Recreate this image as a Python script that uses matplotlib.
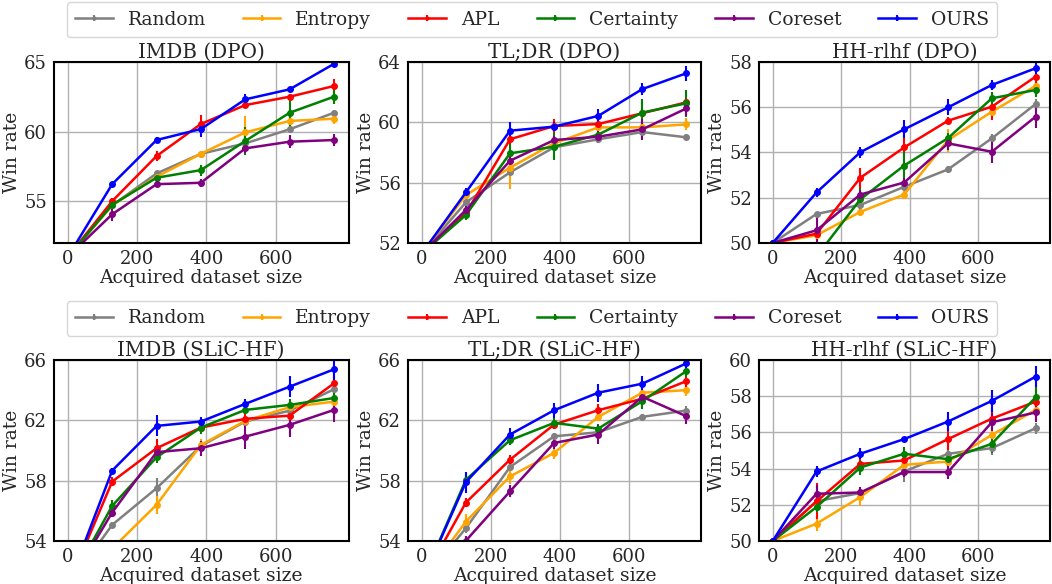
import numpy as np
import matplotlib
matplotlib.use("Agg")
import matplotlib.pyplot as plt
from matplotlib.container import ErrorbarContainer
from matplotlib.legend_handler import HandlerErrorbar

plt.rcParams['font.family'] = 'DejaVu Serif'
plt.rcParams['font.size'] = 13
plt.rcParams['text.color'] = '0.15'
plt.rcParams['axes.labelcolor'] = '0.15'
plt.rcParams['xtick.color'] = '0.15'
plt.rcParams['ytick.color'] = '0.15'

x = [0, 128, 256, 384, 512, 640, 768]
methods = ["Random", "Entropy", "APL", "Certainty", "Coreset", "OURS"]
colors = ["gray", "orange", "red", "green", "purple", "blue"]

titles = ["IMDB (DPO)", "TL;DR (DPO)", "HH-rlhf (DPO)",
          "IMDB (SLiC-HF)", "TL;DR (SLiC-HF)", "HH-rlhf (SLiC-HF)"]
ylims = [(52, 65), (52, 64), (50, 58), (54, 66), (54, 66), (50, 60)]
yticks = [[55, 60, 65], [52, 56, 60, 64], [50, 52, 54, 56, 58],
          [54, 58, 62, 66], [54, 58, 62, 66], [50, 52, 54, 56, 58, 60]]

# win rates, order: Random, Entropy, APL, Certainty, Coreset, OURS
imdb_dpo = [
    [51, 54.7, 56.99, 58.4, 59.15, 60.16, 61.35],
    [51, 54.7, 56.75, 58.4, 59.94, 60.76, 60.92],
    [51, 55.0, 58.24, 60.54, 61.9, 62.5, 63.27],
    [51, 54.74, 56.68, 57.23, 59.32, 61.35, 62.5],
    [51, 54.06, 56.22, 56.32, 58.79, 59.27, 59.39],
    [51, 56.22, 59.39, 60.18, 62.31, 63.03, 64.86],
]
imdb_dpo_err = [
    [0, 0.2, 0.2, 0.1, 0.2, 0.2, 0.2],
    [0, 0.2, 0.2, 0.15, 1.2, 0.35, 0.35],
    [0, 0.2, 0.35, 0.65, 0.2, 0.2, 0.5],
    [0, 0.2, 0.2, 0.4, 1.0, 1.3, 0.5],
    [0, 0.45, 0.2, 0.3, 0.35, 0.45, 0.4],
    [0, 0.15, 0.2, 0.6, 0.35, 0.2, 0.15],
]
tldr_dpo = [
    [51.3, 54.69, 56.68, 58.34, 58.87, 59.35, 59.0],
    [51.3, 55.17, 56.99, 58.6, 59.66, 59.66, 59.86],
    [51.3, 53.96, 58.87, 59.75, 59.88, 60.6, 61.32],
    [51.3, 53.85, 57.94, 58.38, 59.18, 60.64, 61.26],
    [51.3, 54.18, 57.45, 58.82, 59.04, 59.53, 60.92],
    [51.3, 55.35, 59.44, 59.71, 60.42, 62.2, 63.25],
]
tldr_dpo_err = [
    [0, 0.3, 0.2, 0.2, 0.2, 0.2, 0.2],
    [0, 0.3, 1.4, 0.3, 0.3, 0.2, 0.4],
    [0, 0.2, 0.3, 0.45, 0.25, 0.3, 0.3],
    [0, 0.3, 0.6, 0.9, 0.3, 0.9, 0.9],
    [0, 0.3, 0.3, 0.3, 0.4, 0.7, 0.5],
    [0, 0.3, 0.6, 0.3, 0.45, 0.4, 0.5],
]
hh_dpo = [
    [50, 51.28, 51.68, 52.48, 53.25, 54.62, 56.14],
    [50, 50.34, 51.37, 52.14, 54.54, 55.8, 56.94],
    [50, 50.41, 52.88, 54.22, 55.4, 56.02, 57.35],
    [50, 49.4, 51.93, 53.42, 54.63, 56.39, 56.76],
    [50, 50.56, 52.14, 52.67, 54.4, 54.03, 55.58],
    [50, 52.23, 54.01, 55.02, 55.99, 56.98, 57.72],
]
hh_dpo_err = [
    [0, 0.1, 0.1, 0.1, 0.15, 0.2, 0.2],
    [0, 0.2, 0.2, 0.15, 0.5, 0.2, 0.3],
    [0, 0.3, 0.45, 0.4, 0.15, 0.6, 0.4],
    [0, 0.3, 0.5, 0.6, 0.25, 0.3, 0.3],
    [0, 0.6, 0.2, 0.2, 0.3, 0.5, 0.5],
    [0, 0.2, 0.25, 0.4, 0.35, 0.2, 0.3],
]
imdb_slic = [
    [51, 55.07, 57.5, 60.3, 61.92, 62.64, 64.06],
    [51, 53.5, 56.4, 60.37, 61.96, 62.87, 63.24],
    [51, 57.94, 60.15, 61.52, 62.1, 62.31, 64.45],
    [51, 56.33, 59.55, 61.52, 62.69, 63.02, 63.48],
    [51, 55.89, 59.89, 60.15, 60.92, 61.7, 62.69],
    [51, 58.67, 61.63, 61.92, 63.09, 64.23, 65.38],
]
imdb_slic_err = [
    [0, 0.2, 0.7, 0.3, 0.3, 0.4, 0.4],
    [0, 0.3, 0.6, 0.4, 0.3, 0.3, 0.3],
    [0, 0.3, 0.6, 0.3, 0.3, 0.4, 0.5],
    [0, 0.4, 0.4, 0.4, 0.3, 0.4, 0.3],
    [0, 0.3, 0.3, 0.5, 0.8, 0.8, 0.8],
    [0, 0.2, 0.7, 0.3, 0.35, 0.7, 0.7],
]
tldr_slic = [
    [51.3, 54.85, 58.9, 60.94, 61.21, 62.23, 62.65],
    [51.3, 55.29, 58.28, 59.84, 62.23, 63.83, 64.0],
    [51.3, 56.55, 59.39, 61.72, 62.67, 63.43, 64.6],
    [51.3, 58.06, 60.68, 61.83, 61.45, 63.27, 65.27],
    [51.3, 54.02, 57.29, 60.5, 61.06, 63.56, 62.27],
    [51.3, 57.9, 61.06, 62.67, 63.83, 64.43, 65.78],
]
tldr_slic_err = [
    [0, 0.3, 0.3, 0.2, 0.2, 0.2, 0.3],
    [0, 0.5, 0.5, 0.4, 0.3, 0.3, 0.4],
    [0, 0.3, 0.3, 0.3, 0.4, 0.4, 0.4],
    [0, 0.4, 0.3, 0.3, 0.3, 0.5, 0.4],
    [0, 0.3, 0.4, 0.4, 0.6, 0.3, 0.5],
    [0, 0.7, 0.4, 0.5, 0.6, 0.5, 0.3],
]
hh_slic = [
    [50, 52.2, 52.65, 53.84, 54.82, 55.13, 56.23],
    [50, 50.96, 52.43, 54.21, 54.39, 55.86, 57.24],
    [50, 52.19, 54.26, 54.45, 55.63, 56.76, 57.7],
    [50, 51.88, 54.06, 54.82, 54.52, 55.37, 57.94],
    [50, 52.61, 52.68, 53.81, 53.81, 56.56, 57.1],
    [50, 53.84, 54.82, 55.63, 56.6, 57.74, 59.08],
]
hh_slic_err = [
    [0, 0.2, 0.2, 0.6, 0.3, 0.4, 0.3],
    [0, 0.4, 0.5, 0.3, 0.3, 0.4, 0.5],
    [0, 1.0, 0.4, 0.3, 0.6, 0.6, 0.8],
    [0, 0.3, 0.4, 0.4, 0.4, 0.5, 0.7],
    [0, 0.5, 0.3, 0.3, 0.4, 0.5, 0.5],
    [0, 0.3, 0.3, 0.1, 0.5, 0.6, 0.6],
]

panels = [(imdb_dpo, imdb_dpo_err), (tldr_dpo, tldr_dpo_err), (hh_dpo, hh_dpo_err),
          (imdb_slic, imdb_slic_err), (tldr_slic, tldr_slic_err), (hh_slic, hh_slic_err)]

fig = plt.figure(figsize=(10.52, 5.84), dpi=100)
lefts = [0.0513, 0.3878, 0.7215]
widths = [0.280, 0.2785, 0.2766]
bottoms = [0.584, 0.0736]
height = 0.31

handles = None
for i, (vals, errs) in enumerate(panels):
    r, c = divmod(i, 3)
    ax = fig.add_axes([lefts[c], bottoms[r], widths[c], height])
    hs = []
    for m, col, v, e in zip(methods, colors, vals, errs):
        h = ax.errorbar(x, v, yerr=e, color=col, marker='o', markersize=4,
                        linewidth=1.8, elinewidth=1.5, capsize=0, label=m)
        hs.append(h)
    if handles is None:
        handles = hs
    ax.set_xlim(-40, 810)
    ax.set_ylim(*ylims[i])
    ax.set_xticks([0, 200, 400, 600])
    ax.set_yticks(yticks[i])
    ax.grid(True, color='#b0b0b0', linewidth=1)
    ax.set_axisbelow(True)
    ax.tick_params(length=0, pad=5, labelsize=13)
    for s in ax.spines.values():
        s.set_linewidth(1.5)
    ax.set_title(titles[i], pad=3, fontsize=14.3)
    ax.set_xlabel("Acquired dataset size", labelpad=1, fontsize=13.5)
    ax.set_ylabel("Win rate", labelpad=2, fontsize=13.5)

for yc in [0.966, 0.455]:
    fig.legend(handles, methods, loc='center', bbox_to_anchor=(0.5057, yc),
               ncol=6, frameon=True, fontsize=13.5, handlelength=2,
               columnspacing=1.98, borderpad=0.45, markerscale=0.5,
               handler_map={ErrorbarContainer: HandlerErrorbar(yerr_size=0.15)})

fig.savefig("out.png", dpi=100)
